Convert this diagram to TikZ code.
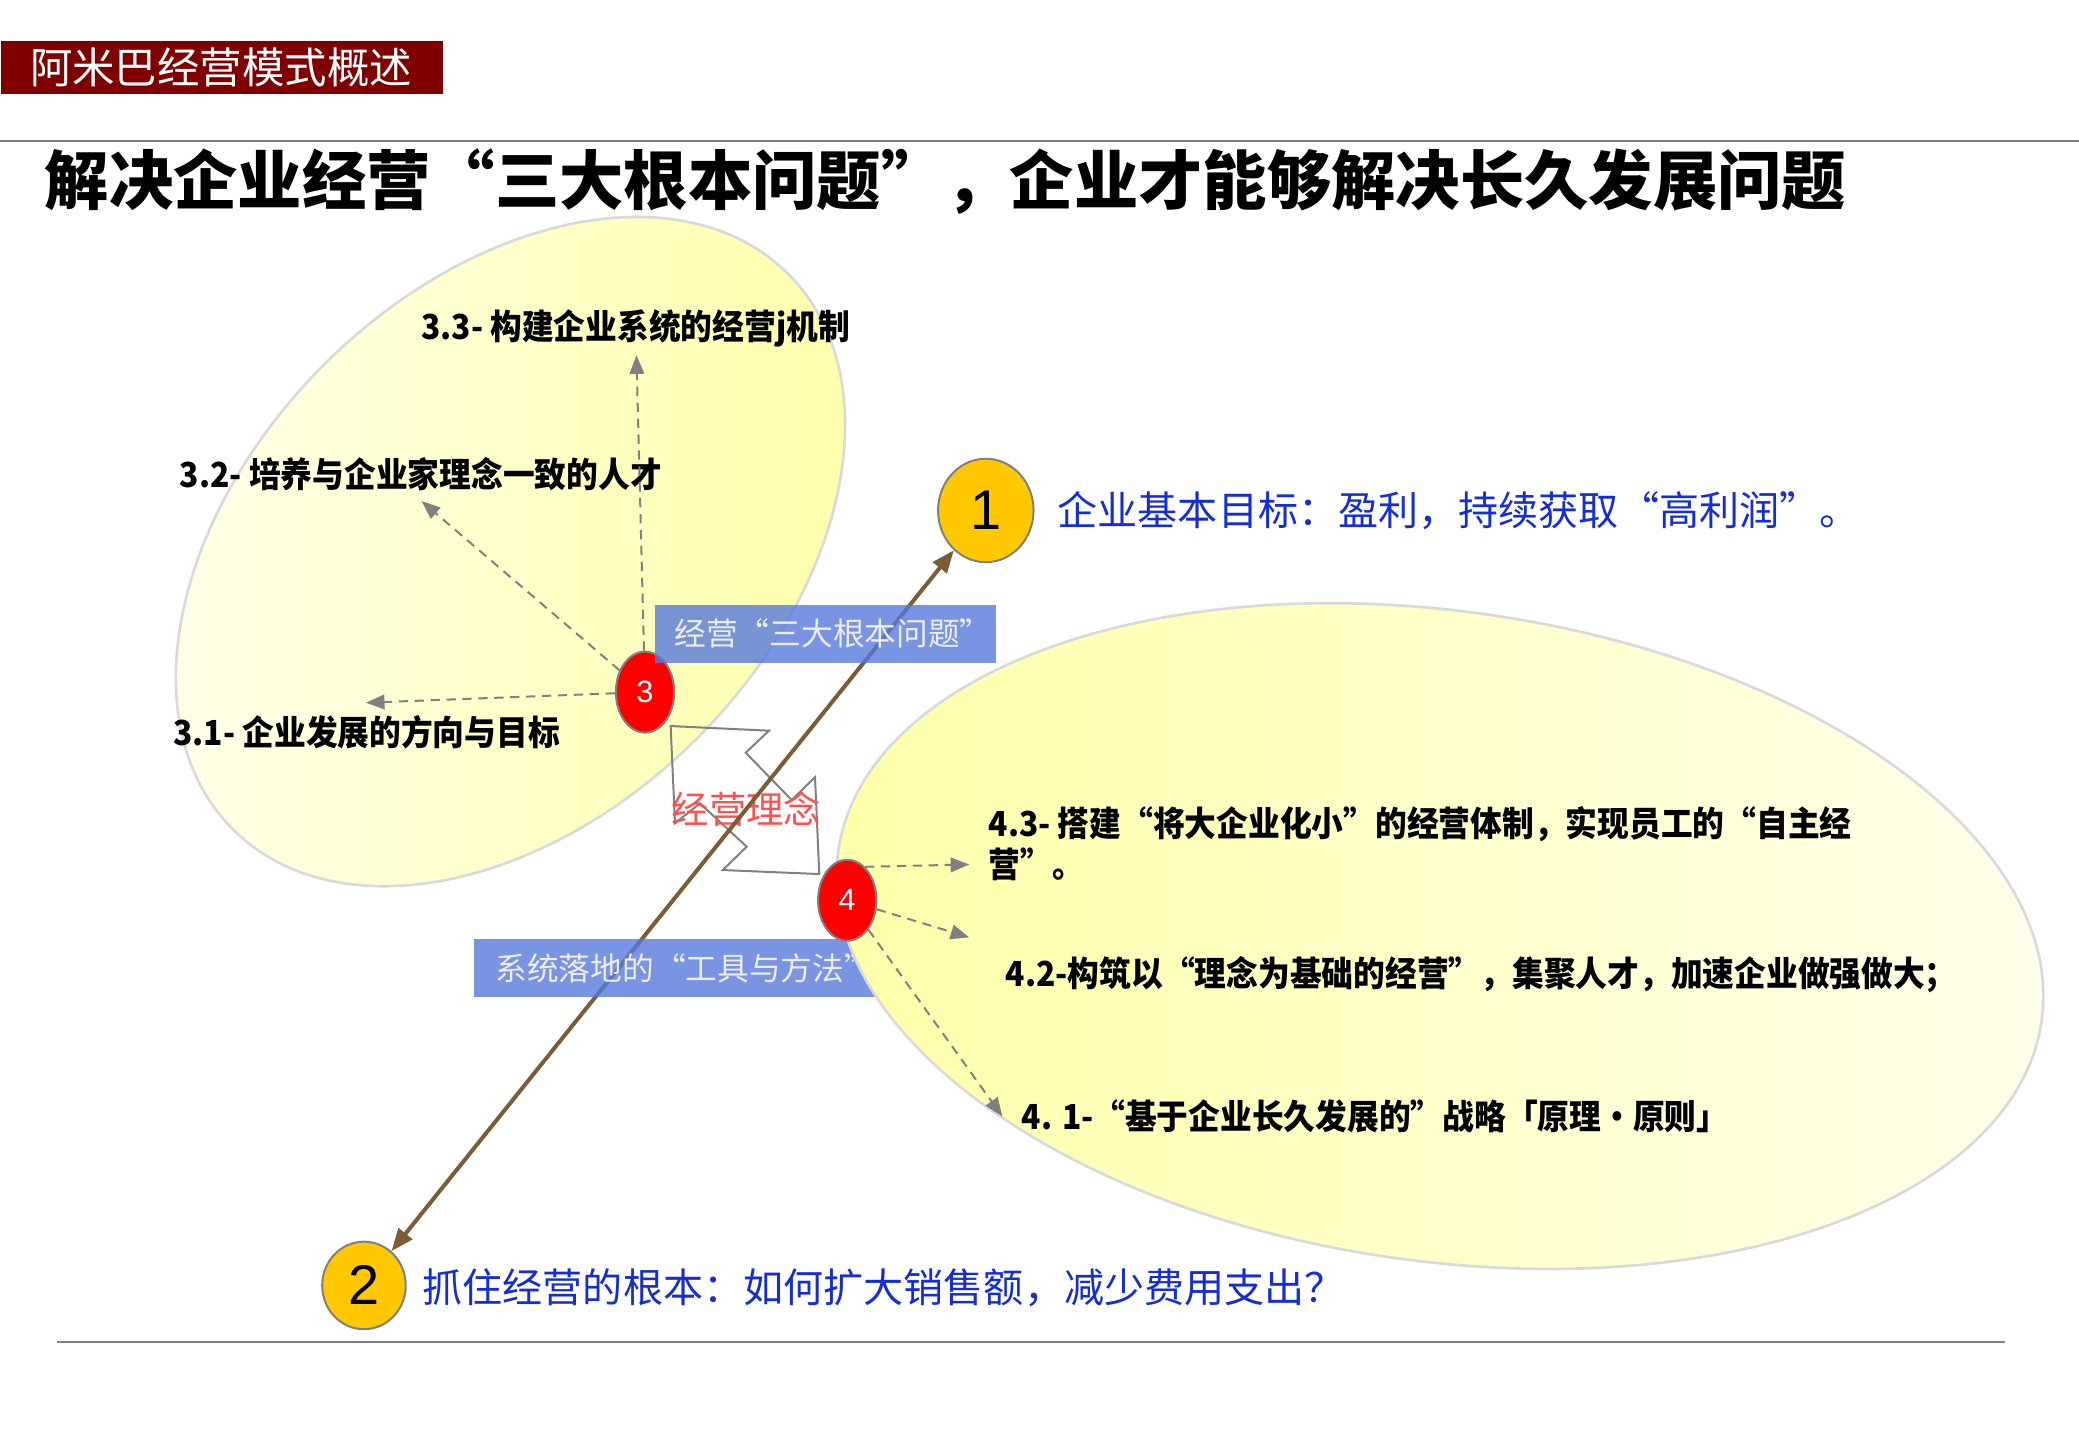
\documentclass[tikz,border=0pt]{standalone}
\usepackage{fontspec}
\setmainfont{Noto Sans CJK SC}
\newfontfamily\condfont{Noto Sans CJK SC}[FakeStretch=0.92]
\newfontfamily\arialfont{Liberation Sans}
\usetikzlibrary{shapes.geometric,arrows.meta}

\definecolor{bannerred}{RGB}{128,0,0}
\definecolor{goldball}{RGB}{255,200,0}
\definecolor{brownline}{RGB}{122,93,52}
\definecolor{boxblue}{RGB}{88,122,220}
\definecolor{goalblue}{RGB}{20,45,215}
\definecolor{paleyellow}{RGB}{255,255,236}
\definecolor{deepyellow}{RGB}{255,255,168}
\definecolor{ideared}{RGB}{255,80,80}

\tikzset{
  bigoval/.style={ellipse, draw=gray!30, line width=0.02cm, inner sep=0},
  reddot/.style={ellipse, draw=gray, line width=0.015cm, fill=red, text=white, inner sep=0,
    minimum width=0.44cm, minimum height=0.61cm, font=\arialfont\fontsize{6.6}{7}\selectfont},
  golddot/.style={ellipse, draw=gray, line width=0.015cm, fill=goldball, inner sep=0,
    font=\arialfont\fontsize{12}{13}\selectfont},
  goaltext/.style={anchor=west, inner sep=0, text=goalblue, font=\fontsize{8.6}{9}\selectfont},
  itemtext/.style={anchor=west, inner sep=0, align=left, font=\condfont\bfseries\fontsize{7.4}{8.8}\selectfont},
  bluebox/.style={anchor=west, fill=boxblue, fill opacity=0.8, text opacity=1, text=white!93!black,
    inner ysep=0, minimum height=0.44cm, font=\fontsize{6.8}{7}\selectfont},
  dasharrow/.style={draw=gray, line width=0.015cm, dash pattern=on 0.07cm off 0.05cm,
    -{Triangle[length=0.14cm,width=0.11cm]}},
  brownarrow/.style={draw=brownline, line width=0.03cm,
    {Triangle[length=0.17cm,width=0.13cm]}-{Triangle[length=0.17cm,width=0.13cm]}},
}

\begin{document}
\begin{tikzpicture}[x=0.01cm, y=-0.01cm]

   \useasboundingbox [fill=white] (0,0) rectangle (1568,1085);

   % header
   \node (banner) at (0,30) [anchor=north west, fill=bannerred, text=white, inner xsep=0.22cm, inner ysep=0,
     minimum height=0.4cm, text width=2.89cm, font=\fontsize{9.1}{10}\selectfont] {阿米巴经营模式概述};
   \draw [gray, line width=0.015cm] (0,106) -- (1568,106);
   \node (title) at (33,137) [anchor=west, inner sep=0, font=\bfseries\fontsize{13.8}{15}\selectfont]
     {解决企业经营“三大根本问题”，企业才能够解决长久发展问题};

   % three basic problems
   \node (oval3) at (385,416) [bigoval, minimum width=5.92cm, minimum height=3.98cm, rotate=45,
     left color=paleyellow, right color=deepyellow] {};

   \node (t33) at (317,248) [itemtext] {3.3- 构建企业系统的经营j机制};
   \node (t32) at (135,358) [itemtext] {3.2- 培养与企业家理念一致的人才};
   \node (t31) at (130,552) [itemtext] {3.1- 企业发展的方向与目标};

   \node (c3) at (486.5,522) [reddot] {3};

   \coordinate (e33) at (480,268);
   \coordinate (e32) at (318,378);
   \coordinate (e31) at (276,530);

   \draw [dasharrow] (c3) -- (e33);
   \draw [dasharrow] (c3) -- (e32);
   \draw [dasharrow] (c3) -- (e31);

   % idea arrows
   \draw [gray, line width=0.015cm] (505.8,547.6) -- (580,551.1) -- (562.4,567.7) -- (597.1,603.4)
     -- (614.7,586.2) -- (617.9,659.2) -- (545.1,656.2) -- (563.2,638.6) -- (527.9,605.9)
     -- (509.1,620.9) -- cycle;
   \node (linian) at (563,610) [inner sep=0, text=ideared, font=\fontsize{8}{9}\selectfont] {经营理念};

   % goals
   \node (c1) at (743.5,385) [golddot, minimum width=0.72cm, minimum height=0.78cm] {1};
   \node (c2) at (274.5,969.5) [golddot, minimum width=0.63cm, minimum height=0.66cm] {2};
   \node (goal1) at (797,385) [goaltext] {企业基本目标：盈利，持续获取“高利润”。};
   \node (goal2) at (318,971) [goaltext] {抓住经营的根本：如何扩大销售额，减少费用支出？};

   \draw [brownarrow] (c2) -- (c1);

   \node (sanda) at (493,478) [bluebox, inner xsep=0.15cm, text width=2.27cm] {经营“三大根本问题”};
   \node (gongju) at (357,730) [bluebox, inner xsep=0.16cm, text width=2.9cm] {系统落地的“工具与方法”};

   % tools and methods
   \node (oval4) at (1086,706) [bigoval, minimum width=9.16cm, minimum height=4.9cm, rotate=-8,
     left color=deepyellow, right color=paleyellow] {};

   \node (t43) at (745,636) [itemtext] {4.3- 搭建“将大企业化小”的经营体制，实现员工的“自主经\\营”。};
   \node (t42) at (758,735) [itemtext] {4.2-构筑以“理念为基础的经营”，集聚人才，加速企业做强做大；};
   \node (t41) at (770,842) [itemtext] {4. 1-“基于企业长久发展的”战略「原理・原则」};

   \node (c4) at (639,679) [reddot] {4};

   \coordinate (e43) at (731,652);
   \coordinate (e42) at (731,707);
   \coordinate (e41) at (756,842);

   \draw [dasharrow] (c4.62) -- (e43);
   \draw [dasharrow] (c4) -- (e42);
   \draw [dasharrow] (c4) -- (e41);

   \draw [gray, line width=0.015cm] (43,1012) -- (1512,1012);

\end{tikzpicture}
\end{document}
